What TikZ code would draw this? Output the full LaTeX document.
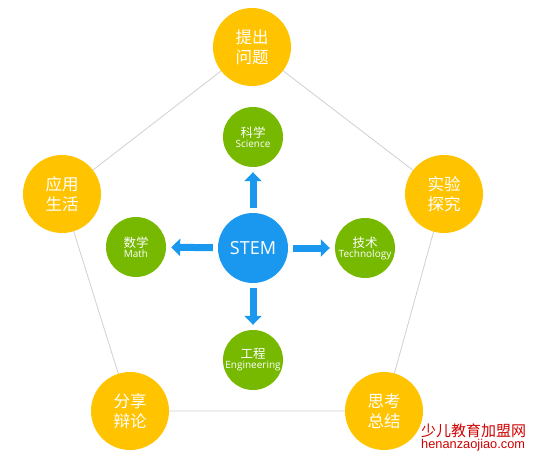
\documentclass[tikz,border=0pt]{standalone}
\usepackage{fontspec}
\newfontfamily\cjk{Noto Sans CJK SC}
\newfontfamily\latin{Open Sans}
\newfontfamily\wmfont{Liberation Sans}
\usetikzlibrary{arrows.meta,backgrounds}
\definecolor{yel}{HTML}{FFC300}
\definecolor{grn}{HTML}{77B900}
\definecolor{blu}{HTML}{1A98F0}
\definecolor{lin}{HTML}{D0D0D0}
\definecolor{wm}{HTML}{D00000}
\tikzset{
  ybub/.style={circle, fill=yel, minimum size=78pt, inner sep=0pt, text=white, font=\cjk\fontsize{16.5}{20}\selectfont, align=center},
  gbub/.style={circle, fill=grn, minimum size=60pt, inner sep=0pt, text=white, align=center},
  sbub/.style={circle, fill=blu, minimum size=70pt, inner sep=0pt, text=white, font=\latin\fontsize{18}{20}\selectfont},
  pent/.style={draw=lin, line width=0.8pt},
  barrow/.style={draw=blu, line width=7pt, -{Triangle[width=17pt,length=9pt]}, shorten <=5pt, shorten >=5pt}
}
\newcommand{\gtext}[2]{{\cjk\fontsize{12.5}{14}\selectfont #1}\\[-2pt]{\latin\fontsize{10}{11}\selectfont #2}}
\begin{document}
\begin{tikzpicture}[x=1pt,y=-1pt]
\useasboundingbox (0,0) rectangle (536,456);
% outer nodes
\node[ybub] (q) at (252,47) {提出\\问题};
\node[ybub] (e) at (444,194) {实验\\探究};
\node[ybub] (t) at (384,411) {思考\\总结};
\node[ybub] (s) at (130,411) {分享\\辩论};
\node[ybub] (a) at (62,194) {应用\\生活};
% green
\node[gbub] (sci) at (253,137) {\gtext{科学}{Science}};
\node[gbub] (tec) at (365,248) {\gtext{技术}{Technology}};
\node[gbub] (eng) at (253,360) {\gtext{工程}{Engineering}};
\node[gbub] (mat) at (136,247) {\gtext{数学}{Math}};
\node[sbub] (stem) at (253,248) {STEM};
% arrows
\draw[barrow] (stem) -- (sci);
\draw[barrow] (stem) -- (tec);
\draw[barrow] (stem) -- (eng);
\draw[barrow] (stem) -- (mat);
% watermark
\node[anchor=west, inner sep=0pt, text=wm, font=\cjk\fontsize{15}{16}\selectfont] (wm1) at (421,431) {少儿教育加盟网};
\node[anchor=west, inner sep=0pt, text=wm, font=\wmfont\fontsize{12.8}{13}\selectfont] (wm2) at (421,445) {henanzaojiao.com};
% pentagon lines behind
\begin{scope}[on background layer]
\draw[pent] (q.center) -- (e.center) -- (t.center) -- (s.center) -- (a.center) -- cycle;
\end{scope}
\end{tikzpicture}
\end{document}
